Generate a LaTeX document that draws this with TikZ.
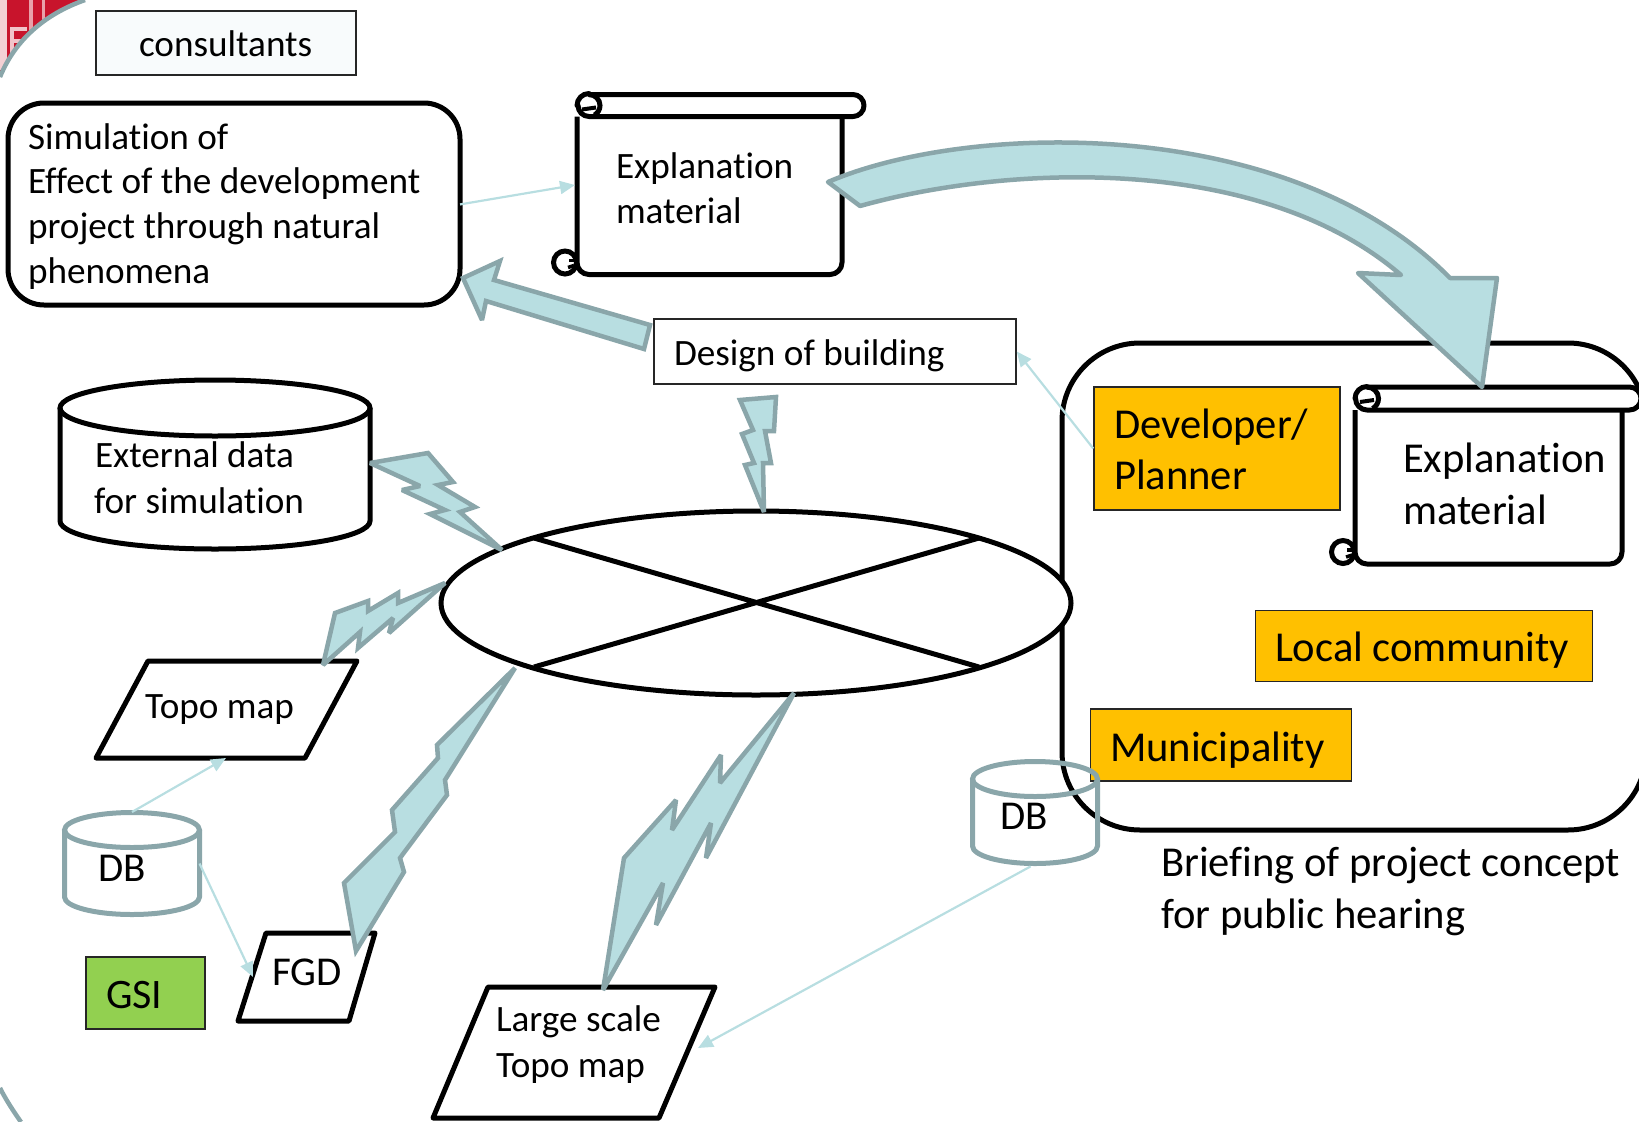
\documentclass[tikz,border=0pt]{standalone}
\usepackage{fontspec}
\setmainfont[Ligatures={NoCommon}]{Carlito}
\usetikzlibrary{arrows.meta,shapes.geometric}
\definecolor{boltfill}{HTML}{B8DEE1}
\definecolor{boltline}{HTML}{8AA6AA}
\definecolor{thinline}{HTML}{B8DEE1}
\definecolor{orangebox}{HTML}{FFC000}
\definecolor{greenbox}{HTML}{92D050}
\definecolor{redpic}{HTML}{C8142C}
\definecolor{paleblue}{HTML}{F8FBFC}
\tikzset{
  thick box/.style={draw=black,line width=5pt,fill=white,inner sep=0pt},
  flat box/.style={draw=black!85,line width=1.5pt,inner sep=0pt},
  stakeholder/.style={flat box,fill=orangebox},
  bolt/.style={draw=boltline,fill=boltfill,line width=4.5pt,line join=miter,miter limit=3},
  thin arrow/.style={draw=thinline,line width=2.2pt,-{Triangle[length=15pt,width=13pt]}},
  anchorbox/.style={inner sep=0pt,outer sep=0pt},
  txt/.style={inner sep=0pt,outer sep=0pt,anchor=base west,align=left,text=black},
  small/.style={font=\fontsize{37.2}{45}\selectfont},
  big/.style={font=\fontsize{42.6}{51}\selectfont},
  outline/.style={draw=black,line width=5pt,fill=white,line join=round}
}
\newcommand{\scrollshape}[6]{% x-left, x-right, x-bar-end, y-top, y-bar-bottom, y-bottom
  \pgfmathsetmacro{\barrad}{(#5-#4)/2}
  \draw[outline,rounded corners=12pt] (#1,#5) -- (#1,#6) -- (#2,#6) -- (#2,#5);
  \draw[outline] ({#1+12},#4) -- ({#3-\barrad},#4) arc[start angle=270,end angle=450,radius=\barrad] -- ({#1+12},#5)
     arc[start angle=90,end angle=180,radius=\barrad] -- (#1,{#4+\barrad}) arc[start angle=180,end angle=270,radius=12] -- cycle;
  % top curl
  \draw[line width=5pt,draw=black] ({#1+12},#4) arc[start angle=270,end angle=420,radius=\barrad];
  \draw[line width=4pt,draw=black] ({#1+5},{#4+15}) -- ({#1+19},{#4+13});
  % bottom curl
  \draw[line width=5pt,draw=black,fill=white] ({#1-12},{#6-12}) circle[radius=11.5];
  \draw[line width=3.5pt,draw=black] ({#1-8},{#6-14}) -- ({#1},{#6-14});
  \draw[line width=3.5pt,draw=black] ({#1-9},{#6-7}) -- ({#1-3},{#6-9});
}
\newcommand{\cylshape}[6]{% cx, y top centre, y bottom centre, rx, ry, colour
  \draw[draw=#6,line width=5pt] ({#1-#4},#2) -- ({#1-#4},#3)
    arc[start angle=180,end angle=0,x radius=#4,y radius=#5] -- ({#1+#4},#2);
  \draw[draw=#6,line width=5pt] (#1,#2) ellipse[x radius=#4,y radius=#5];
}
\begin{document}
\begin{tikzpicture}[x=1pt,y=-1pt]
\useasboundingbox (0,0) rectangle (1639,1122);
\clip (0,0) rectangle (1639,1122);
% corner of photo behind the frame
\fill[redpic] (0,0) -- (85,0) .. controls (45,14) and (15,40) .. (0,77) -- cycle;
\fill[white,opacity=.8] (0,0) rectangle (7,70);
\fill[white,opacity=.6] (29,0) rectangle (33,33);
\fill[white,opacity=.6] (42,0) rectangle (45,24);
\draw[white,opacity=.75,line width=3.5pt] (27,29) -- (12,29) -- (12,55) (12,41) -- (22,41);
\draw[boltline,line width=4.5pt] (85,0) .. controls (45,14) and (15,40) .. (0,77);
\draw[boltline,line width=4.5pt] (0,1088) .. controls (6,1100) and (14,1112) .. (21,1122);

% large briefing frame
\node[draw=black,line width=5pt,rounded corners=78pt,minimum width=584pt,minimum height=487pt,inner sep=0pt] (frame) at (1354,586.5) {};

% consultants
\node[flat box,fill=paleblue,minimum width=260pt,minimum height=64pt] (cons) at (226,43) {};
\node[txt,small] (constxt) at (139,56) {consultants};

% simulation box
\node[thick box,rounded corners=36pt,minimum width=452pt,minimum height=202pt] (sim) at (234,204) {};
\node[txt,small] (simtxt1) at (28,149) {Simulation of};
\node[txt,small] (simtxt2) at (28,193) {Effect of the development};
\node[txt,small] (simtxt3) at (28,238) {project through natural};
\node[txt,small] (simtxt4) at (28,283) {phenomena};

% scroll 1
\scrollshape{577}{842}{864}{94.5}{116.5}{274.5}
\coordinate (scrollA) at (575,185);
\node[txt,small] (expA1) at (616,178) {Explanation};
\node[txt,small] (expA2) at (616,223) {material};

% design
\node[flat box,fill=white,minimum width=362pt,minimum height=65pt] (design) at (835,351.5) {};
\node[txt,small] (designtxt) at (674,365) {Design of building};

% external data
\cylshape{215}{408}{521}{155}{28}{black}
\node[anchorbox,minimum width=310pt,minimum height=170pt] (ext) at (215,465) {};
\node[txt,small] (exttxt1) at (95,467) {External data};
\node[txt,small] (exttxt2) at (94,513) {for simulation};

% central ellipse
\node[ellipse,draw=black,line width=5pt,fill=white,minimum width=630pt,minimum height=184pt,inner sep=0pt] (disc) at (756,603) {};
\coordinate (dA) at (534,538); \coordinate (dB) at (979,667);
\coordinate (dC) at (979,538); \coordinate (dD) at (534,667);
\draw[black,line width=5pt] (dA) -- (dB) (dC) -- (dD);

% parallelograms
\coordinate (topoA) at (148,661); \coordinate (topoB) at (357,661); \coordinate (topoC) at (305,758); \coordinate (topoD) at (96,758);
\draw[outline] (topoA) -- (topoB) -- (topoC) -- (topoD) -- cycle;
\node[txt,small] (topotxt) at (145,718) {Topo map};
\coordinate (fgdA) at (266,933); \coordinate (fgdB) at (375,933); \coordinate (fgdC) at (349,1021); \coordinate (fgdD) at (238,1021);
\draw[outline] (fgdA) -- (fgdB) -- (fgdC) -- (fgdD) -- cycle;
\node[txt,font=\fontsize{41}{45}\selectfont] (fgdtxt) at (272,985) {FGD};
\coordinate (lgA) at (488,987); \coordinate (lgB) at (715,987); \coordinate (lgC) at (659,1118); \coordinate (lgD) at (433,1118);
\draw[outline] (lgA) -- (lgB) -- (lgC) -- (lgD) -- cycle;
\node[txt,small] (lgtxt1) at (496,1031) {Large scale};
\node[txt,small] (lgtxt2) at (496,1077) {Topo map};

% left DB
\cylshape{132}{830}{897}{67.5}{17.5}{boltline}
\node[anchorbox,minimum width=135pt,minimum height=103pt] (dbA) at (132,863.5) {};
\node[txt,font=\fontsize{41}{45}\selectfont] (dbAtxt) at (98,881) {DB};

% GSI
\node[flat box,fill=greenbox,minimum width=119pt,minimum height=72pt] (gsi) at (145.5,993) {};
\node[txt,font=\fontsize{42}{45}\selectfont] (gsitxt) at (106,1008) {GSI};

% stakeholders
\node[stakeholder,minimum width=246pt,minimum height=123pt] (dev) at (1217,448.5) {};
\node[txt,big] (devtxt1) at (1114,438) {Developer/};
\node[txt,big] (devtxt2) at (1114,489) {Planner};
\node[stakeholder,minimum width=337pt,minimum height=71pt] (local) at (1424,646) {};
\node[txt,big] (localtxt) at (1275,661) {Local community};
\node[stakeholder,minimum width=261pt,minimum height=72pt] (muni) at (1221,745) {};
\node[txt,big] (munitxt) at (1110,761) {Municipality};

% DB in front of the municipality corner, see-through
\cylshape{1035}{779}{846}{62.5}{17.5}{boltline}
\node[anchorbox,minimum width=127pt,minimum height=103pt] (dbB) at (1035,812.5) {};
\node[txt,font=\fontsize{41}{45}\selectfont] (dbBtxt) at (1000,829) {DB};

% scroll 2
\scrollshape{1355}{1622}{1641}{387}{410}{564}
\node[txt,big] (expB1) at (1403,472) {Explanation};
\node[txt,big] (expB2) at (1403,524) {material};
\node[txt,big] (brief1) at (1161,876) {Briefing of project concept};
\node[txt,big] (brief2) at (1161,928) {for public hearing};

% thick arrows
\draw[bolt] (650,325) -- (494,280) -- (500,261) -- (463,278) -- (482,320) -- (486,301) -- (644,349) -- cycle;
\draw[bolt,line join=round] (828,182) .. controls (970,121) and (1290,115) .. (1450,278) -- (1497,278) -- (1482,387) -- (1358,273) -- (1401,275) .. controls (1260,154) and (1010,164) .. (860,206) -- cycle;

% bolts
\draw[bolt] (740,400) -- (776,397) -- (774,431) -- (765,431) -- (771,463) -- (763,463) -- (764,512) -- (745,465) -- (754,463) -- (742,434) -- (753,430) -- cycle;
\draw[bolt] (370,463) -- (428,453) -- (453,482) -- (438,485) -- (475,507) -- (460,512) -- (502,550) -- (430,514) -- (445,510) -- (402,490) -- (420,486) -- cycle;
\draw[bolt] (445,583) -- (398,603) -- (398,593) -- (368,611) -- (368,601) -- (335,613) -- (323,665) -- (360,632) -- (358,648) -- (393,618) -- (389,633) -- cycle;
\draw[bolt] (515,668) -- (437,745) -- (438,758) -- (392,810) -- (395,832) -- (344,883) -- (356,951) -- (404,872) -- (400,858) -- (447,795) -- (445,780) -- cycle;
\draw[bolt] (794,693) -- (720,783) -- (721,755) -- (672,830) -- (676,800) -- (624,858) -- (603,990) -- (663,883) -- (656,925) -- (711,823) -- (706,858) -- cycle;

% thin connectors
\draw[thin arrow,shorten <=-2.5pt] (sim.east) -- (scrollA);
\draw[thin arrow] (dev.west) -- (design.east);
\coordinate (topoIn) at (226,758); \coordinate (fgdIn) at (253,977); \coordinate (lgIn) at (698,1048);
\draw[thin arrow] (dbA.north) -- (topoIn);
\draw[thin arrow] (dbA.east) -- (fgdIn);
\draw[thin arrow,shorten <=5pt] (dbB.south) -- (lgIn);
\end{tikzpicture}
\end{document}
